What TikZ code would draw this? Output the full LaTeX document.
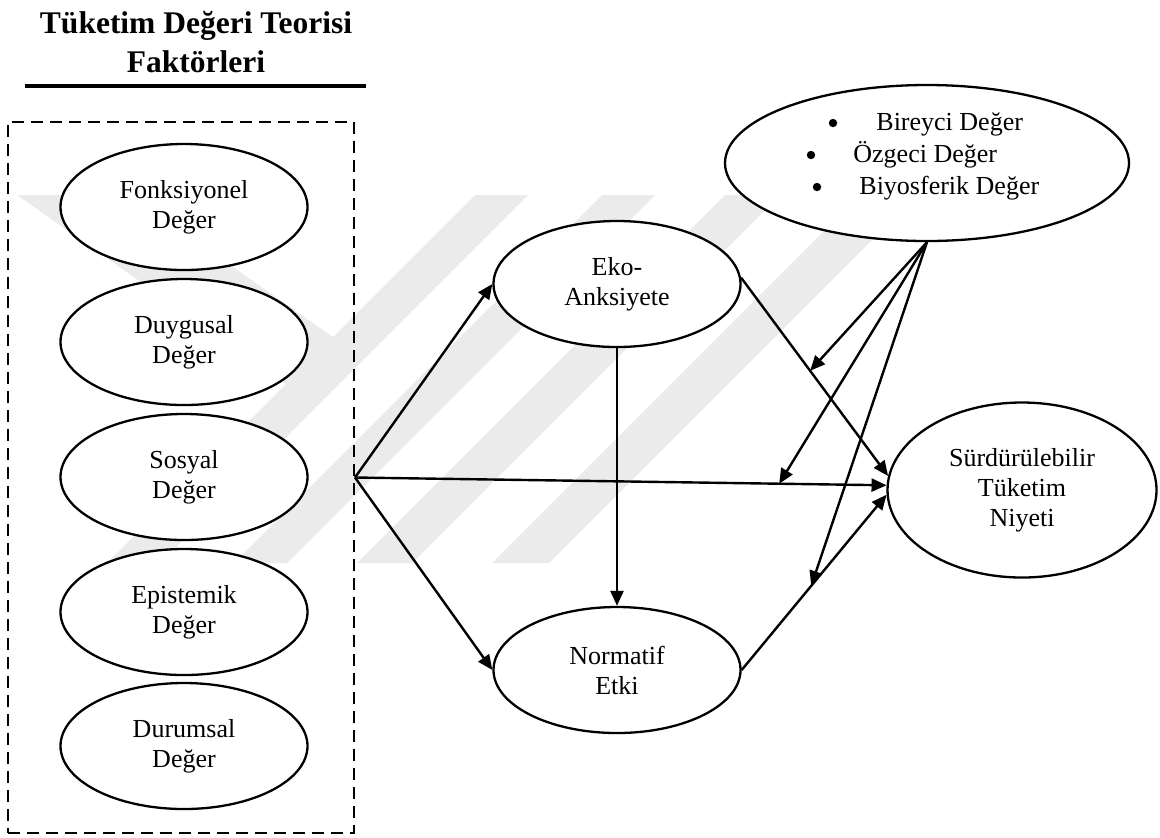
\documentclass[tikz,border=0pt]{standalone}
\usepackage{fontspec}
\setmainfont{Liberation Serif}
\usetikzlibrary{shapes.geometric,arrows.meta}

\begin{document}
\begin{tikzpicture}[x=0.5pt,y=-0.5pt,
  oval/.style={ellipse,draw,line width=1.15pt,fill=white,inner sep=0pt,
    align=center,font=\fontsize{13}{15}\selectfont},
  small/.style={oval,minimum width=123.5pt,minimum height=63pt},
  label/.style={inner sep=0pt,font=\fontsize{13}{15}\selectfont},
  dot/.style={circle,fill,inner sep=0pt,minimum size=4.2pt},
  arr/.style={-{Triangle[length=7.5pt,width=6.5pt]},line width=1.2pt},
  wm/.style={fill=black!8}]
\useasboundingbox (0,0) rectangle (1160,837);

% faint background emblem
\begin{scope}
  \clip (10,195) rectangle (880,563);
  \fill[wm] (17,195) -- (130,195) -- (333,337) -- (286,384) -- cycle;
  \foreach \a/\b in {670/723, 797/850, 920/975, 1055/1112}
    \fill[wm] (\a-195,195) -- (\b-195,195) -- (\b-563,563) -- (\a-563,563) -- cycle;
\end{scope}

% heading
\node[anchor=base,inner sep=0pt,font=\fontsize{15.75}{19}\selectfont\bfseries]
  (head1) at (196,33) {Tüketim Değeri Teorisi};
\node[anchor=base,inner sep=0pt,font=\fontsize{15.75}{19}\selectfont\bfseries]
  (head2) at (196,72) {Faktörleri};
\draw[line width=2pt] (25,86) -- (366,86);

% group of consumption values
\node[draw,line width=1pt,dash pattern=on 6pt off 3.5pt,minimum width=173pt,
  minimum height=355.5pt,inner sep=0pt] (box) at (181,477.5) {};

\node[small] (fonk) at (184,207) {Fonksiyonel\\Değer};
\node[small] (duyg) at (184,342) {Duygusal\\Değer};
\node[small] (sosy) at (184,477) {Sosyal\\Değer};
\node[small] (epis) at (184,612) {Epistemik\\Değer};
\node[small] (duru) at (184,746) {Durumsal\\Değer};

\node[small] (eko) at (617,284) {Eko-\\Anksiyete};
\node[small] (norm) at (617,670) {Normatif\\Etki};
\node[oval,minimum width=134.5pt,minimum height=87.5pt] (surd) at (1022,490)
  {Sürdürülebilir\\Tüketim\\Niyeti};

% value orientations
\node[oval,minimum width=202pt,minimum height=78pt] (deger) at (927,163) {};
\node[dot] (b1) at (833,123) {};
\node[dot] (b2) at (811,155) {};
\node[dot] (b3) at (817,187) {};
\node[label,anchor=base west] (v1) at (876,130) {Bireyci Değer};
\node[label,anchor=base west] (v2) at (853,162) {Özgeci Değer};
\node[label,anchor=base west] (v3) at (859,194) {Biyosferik Değer};

% paths
\draw[arr] (box.east) -- (eko.west);
\draw[arr] (box.east) -- (norm.west);
\draw[arr] (box.east) -- coordinate[pos=0.798] (m2) (surd.178);
\draw[arr] (eko.3) -- coordinate[pos=0.47] (m1) (surd.174);
\draw[arr] (eko.south) -- (norm.north);
\draw[arr] (norm.east) -- coordinate[pos=0.48] (m3) (surd.182);

% moderating effects
\draw[arr] (deger.south) -- (m1);
\draw[arr] (deger.south) -- (m2);
\draw[arr] (deger.south) -- (m3);
\end{tikzpicture}
\end{document}
